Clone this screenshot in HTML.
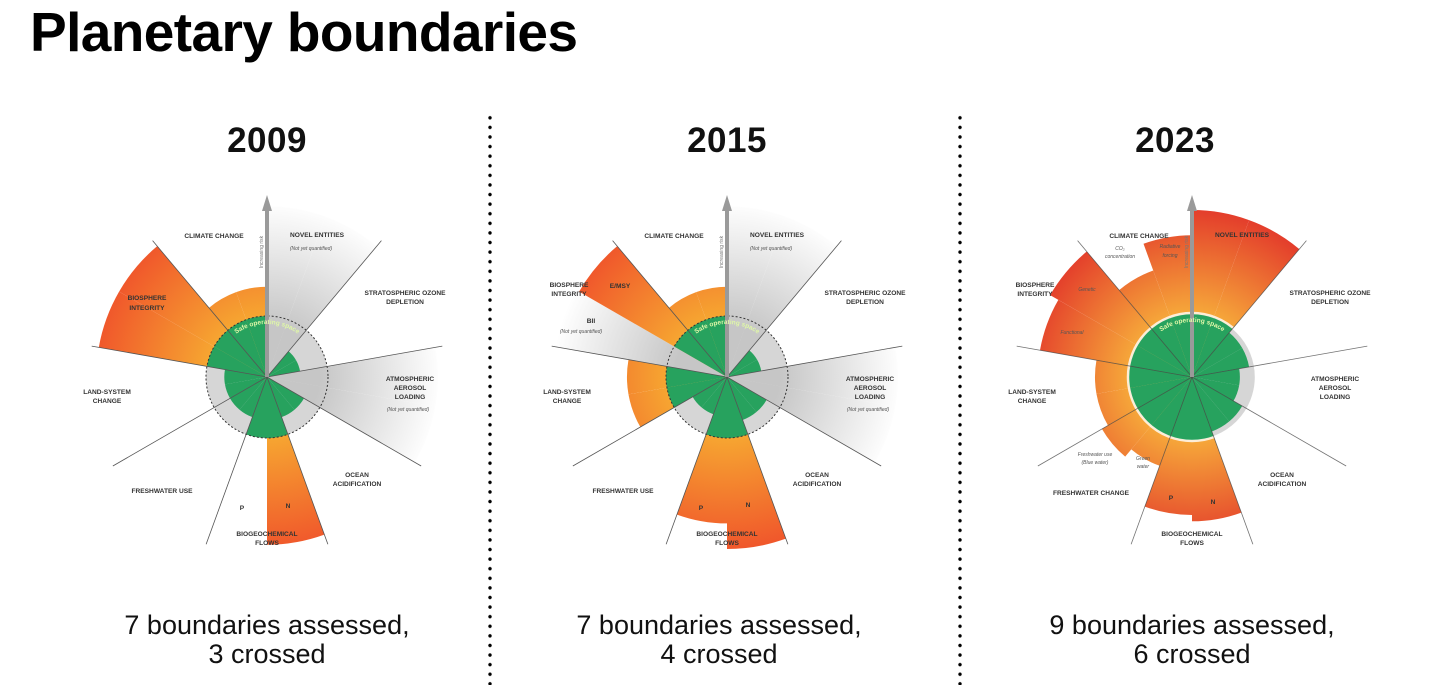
<!DOCTYPE html>
<html><head><meta charset="utf-8">
<style>
body{margin:0;width:1456px;height:700px;background:#fff;overflow:hidden;font-family:"Liberation Sans",sans-serif;position:relative}
h1{position:absolute;left:30px;top:0px;margin:0;font-size:55px;font-weight:bold;letter-spacing:-0.6px;color:#000}
.year{position:absolute;top:121px;width:200px;text-align:center;font-size:35px;font-weight:bold;color:#111;letter-spacing:0.5px}
.cap{position:absolute;top:611px;width:400px;text-align:center;font-size:27px;line-height:29px;color:#111}
.div{position:absolute;top:113px;width:4px;height:572px;background-image:radial-gradient(circle,#000 1.6px,transparent 1.9px);background-size:4px 9.6px}
svg{position:absolute;left:0;top:0}
.lb{font-size:6.6px;font-weight:bold;fill:#333;text-anchor:middle}
.nq{font-size:5px;font-style:italic;fill:#555;text-anchor:middle}
</style></head><body>
<h1>Planetary boundaries</h1>
<div class="year" style="left:167px">2009</div>
<div class="year" style="left:627px">2015</div>
<div class="year" style="left:1075px">2023</div>
<div class="div" style="left:488px"></div>
<div class="div" style="left:958px"></div>
<div class="cap" style="left:67px">7 boundaries assessed,<br>3 crossed</div>
<div class="cap" style="left:519px">7 boundaries assessed,<br>4 crossed</div>
<div class="cap" style="left:992px">9 boundaries assessed,<br>6 crossed</div>
<svg id="chart" width="1456" height="700"></svg>
<script>
const categories = ['novel-a','novel-b','ozone-a','ozone-b','aerosol-a','aerosol-b','ocean-a','ocean-b','nitrogen','phosphorus','freshwater-a','freshwater-b','land-a','land-b','biosphere-a','biosphere-b','climate-a','climate-b'];
const values2009 = [2.8,2.8,0.55,0.55,2.8,2.8,0.7,0.7,2.75,1.0,0.7,0.7,0.7,0.7,2.8,2.8,1.48,1.48];
const quant2009  = [0,0,1,1,0,0,1,1,1,1,1,1,1,1,1,1,1,1];
const values2015 = [2.8,2.8,0.57,0.57,2.8,2.8,0.75,0.75,2.82,2.4,0.65,0.65,1.64,1.64,2.85,2.8,1.48,1.48];
const quant2015  = [0,0,1,1,0,0,1,1,1,1,1,1,1,1,0,1,1,1];
const values2023 = [2.65,2.65,0.92,0.92,0.76,0.76,0.92,0.92,2.29,2.19,1.5,1.65,1.54,1.54,2.45,2.6,1.8,2.25];
const quant2023  = [1,1,1,1,1,1,1,1,1,1,1,1,1,1,1,1,1,1];

const NS='http://www.w3.org/2000/svg';
const svg=document.getElementById('chart');
const defs=document.createElementNS(NS,'defs');svg.appendChild(defs);
function mk(tag,attrs,parent){const e=document.createElementNS(NS,tag);for(const k in attrs)e.setAttribute(k,attrs[k]);(parent||svg).appendChild(e);return e;}
function pt(cx,cy,r,a){const t=a*Math.PI/180;return [cx+r*Math.sin(t),cy-r*Math.cos(t)];}
function wedge(cx,cy,r,a0,a1){const p=pt(cx,cy,r,a0),q=pt(cx,cy,r,a1);return `M${cx},${cy}L${p[0]},${p[1]}A${r},${r} 0 0 1 ${q[0]},${q[1]}Z`;}
const step=360/categories.length;

function drawChart(id,cx,cy,safe,values,quant,dashed,c0,c1){
  const g=mk('g',{});
  
  
  const rg=mk('radialGradient',{id:'hot'+id,gradientUnits:'userSpaceOnUse',cx:cx,cy:cy,r:175},defs);
  mk('stop',{offset:(safe/175).toFixed(2),'stop-color':c0},rg);
  mk('stop',{offset:'1','stop-color':c1},rg);
  const gg=mk('radialGradient',{id:'grey'+id,gradientUnits:'userSpaceOnUse',cx:cx,cy:cy,r:175},defs);
  mk('stop',{offset:'0.3','stop-color':'#c6c6c6'},gg);
  mk('stop',{offset:'1','stop-color':'#ffffff'},gg);
  const globe=mk('circle',{cx:cx,cy:cy,r:safe,fill:'#d6d6d6'},g);
  
  
  values.forEach((v,i)=>{
    const a0=i*step,a1=(i+1)*step;
    if(!quant[i]){
      const w=mk('path',{d:wedge(cx,cy,v*safe,a0,a1),fill:'url(#grey'+id+')'},g);
      
      
    } else if(v>1){
      const w=mk('path',{d:wedge(cx,cy,v*safe,a0,a1),fill:'url(#hot'+id+')'},g);
      
      
    }
  });
  values.forEach((v,i)=>{
    if(!quant[i])return;
    const w=mk('path',{d:wedge(cx,cy,Math.min(v,1)*safe,i*step,(i+1)*step),fill:'#27a25e'},g);
    
    
  });
  if(dashed){
    const c=mk('circle',{cx:cx,cy:cy,r:safe,fill:'none',stroke:'#333','stroke-width':1,'stroke-dasharray':'2 2'},g);
    
    
  } else {
    const c=mk('circle',{cx:cx,cy:cy,r:safe+1,fill:'none',stroke:'#fff','stroke-width':2.5,opacity:0.8},g);
    
    
  }
  for(let a=40;a<360;a+=40){
    const p=pt(cx,cy,178,a);
    const l=mk('line',{x1:cx,y1:cy,x2:p[0],y2:p[1],stroke:dashed?'#555':'#444','stroke-width':0.8,opacity:dashed?1:0.75},g);
    
    
  }
  const ar=mk('rect',{x:cx-2,y:cy-168,width:4,height:168,fill:'#9a9a9a'},g);
  
  
  const ah=mk('path',{d:`M${cx-5},${cy-166}L${cx},${cy-182}L${cx+5},${cy-166}Z`,fill:'#9a9a9a'},g);
  
  
  const rt=mk('text',{x:0,y:0,transform:`translate(${cx-4},${cy-125}) rotate(-90)`,'font-size':5,fill:'#777','text-anchor':'middle'},g);
  rt.textContent='Increasing risk';
  
  
  const rr=safe-8;
  mk('path',{id:'arc'+id,d:`M${cx-rr*0.8},${cy-rr*0.6}A${rr},${rr} 0 0 1 ${cx+rr*0.8},${cy-rr*0.6}`,fill:'none'},defs);
  const st=mk('text',{'font-size':6.5,fill:'#dff7a8','font-weight':'bold'},g);
  
  
  const tp=mk('textPath',{href:'#arc'+id,startOffset:'50%','text-anchor':'middle'},st);
  tp.textContent='Safe operating space';
}
function label(cx,cy,dx,dy,txt,cls,name){
  const t=mk('text',{x:cx+dx,y:cy+dy+2,class:cls||'lb'});
  t.textContent=txt;
  
  
}
drawChart('2009',267,377,61,values2009,quant2009,true,'#f6a531','#f0552b');
drawChart('2015',727,377,61,values2015,quant2015,true,'#f6a531','#f0552b');
drawChart('2023',1192,377,63,values2023,quant2023,false,'#f6a83a','#e2352a');

function common(cx,cy,nq){
  label(cx,cy,-53,-141,'CLIMATE CHANGE','lb','label-climate-change');
  label(cx,cy,50,-142,'NOVEL ENTITIES','lb','label-novel-entities');
  if(nq)label(cx,cy,44,-129,'(Not yet quantified)','nq','label-novel-nq');
  label(cx,cy,138,-84,'STRATOSPHERIC OZONE','lb','label-ozone');
  label(cx,cy,138,-75,'DEPLETION','lb','label-ozone-2');
  label(cx,cy,143,2,'ATMOSPHERIC','lb','label-aerosol');
  label(cx,cy,143,11,'AEROSOL','lb','label-aerosol-2');
  label(cx,cy,143,20,'LOADING','lb','label-aerosol-3');
  if(nq)label(cx,cy,141,32,'(Not yet quantified)','nq','label-aerosol-nq');
  label(cx,cy,90,98,'OCEAN','lb','label-ocean');
  label(cx,cy,90,107,'ACIDIFICATION','lb','label-ocean-2');
  label(cx,cy,0,157,'BIOGEOCHEMICAL','lb','label-biogeochemical');
  label(cx,cy,0,166,'FLOWS','lb','label-biogeochemical-2');
  label(cx,cy,-160,15,'LAND-SYSTEM','lb','label-land');
  label(cx,cy,-160,24,'CHANGE','lb','label-land-2');
}
common(267,377,true);
label(267,377,-105,114,'FRESHWATER USE','lb','label-freshwater');
label(267,377,-120,-79,'BIOSPHERE','lb','label-biosphere');
label(267,377,-120,-69,'INTEGRITY','lb','label-biosphere-2');
label(267,377,-25,131,'P','lb','label-p');
label(267,377,21,129,'N','lb','label-n');

common(727,377,true);
label(727,377,-104,114,'FRESHWATER USE','lb','label-freshwater');
label(727,377,-158,-92,'BIOSPHERE','lb','label-biosphere');
label(727,377,-158,-83,'INTEGRITY','lb','label-biosphere-2');
label(727,377,-107,-91,'E/MSY','lb','label-emsy');
label(727,377,-136,-56,'BII','lb','label-bii');
label(727,377,-146,-46,'(Not yet quantified)','nq','label-bii-nq');
label(727,377,-26,131,'P','lb','label-p');
label(727,377,21,128,'N','lb','label-n');

common(1192,377,false);
label(1192,377,-101,116,'FRESHWATER CHANGE','lb','label-freshwater');
label(1192,377,-157,-92,'BIOSPHERE','lb','label-biosphere');
label(1192,377,-157,-83,'INTEGRITY','lb','label-biosphere-2');
label(1192,377,-105,-88,'Genetic','nq','label-genetic');
label(1192,377,-120,-45,'Functional','nq','label-functional');
label(1192,377,-72,-129,'CO₂','nq','label-co2');
label(1192,377,-72,-121,'concentration','nq','label-co2-2');
label(1192,377,-22,-131,'Radiative','nq','label-radiative');
label(1192,377,-22,-122,'forcing','nq','label-radiative-2');
label(1192,377,-97,77,'Freshwater use','nq','label-blue-water');
label(1192,377,-97,85,'(Blue water)','nq','label-blue-water-2');
label(1192,377,-49,81,'Green','nq','label-green-water');
label(1192,377,-49,89,'water','nq','label-green-water-2');
label(1192,377,-21,121,'P','lb','label-p');
label(1192,377,21,125,'N','lb','label-n');
</script>
</body></html>
